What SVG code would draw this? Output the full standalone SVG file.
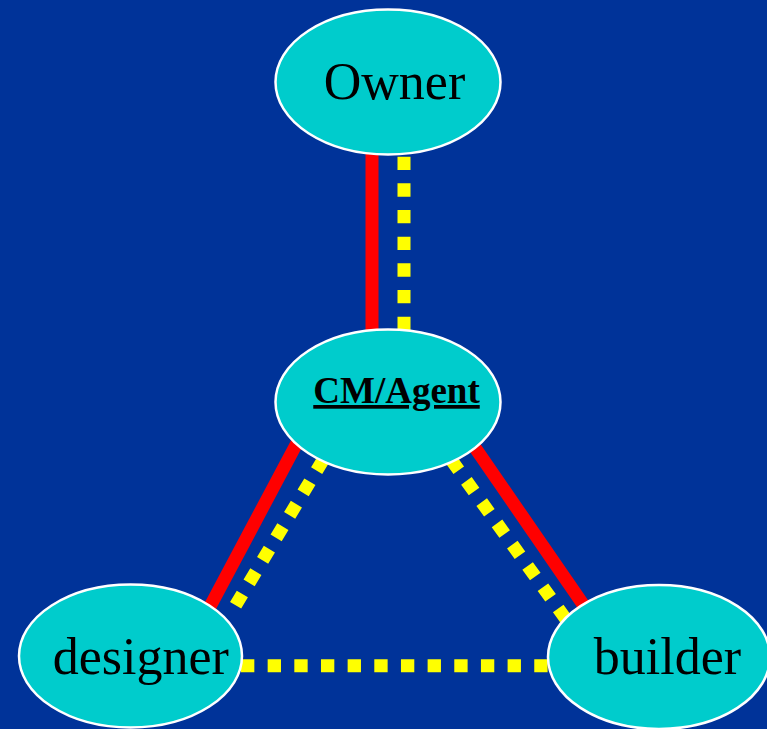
<svg xmlns="http://www.w3.org/2000/svg" width="767" height="729" viewBox="0 0 767 729">
  <style>
    .node ellipse { fill: #00CCCC; stroke: #FFFFFF; stroke-width: 2.5; }
    .node text { font-family: "Liberation Serif", "Times New Roman", serif; fill: #000000; text-anchor: middle; }
    .label { font-size: 52px; }
    .label-bold { font-size: 37px; font-weight: bold; text-decoration: underline; }
    .solid { stroke: #FF0000; stroke-width: 13; fill: none; }
    .dotted { stroke: #FFFF00; stroke-width: 13; fill: none; stroke-linecap: butt; }
    .dotted-v { stroke-dasharray: 13.33 13.33; }
    .dotted-d { stroke-dasharray: 13.1 13.1; }
  </style>

  <!-- backdrop -->
  <rect x="0" y="0" width="767" height="729" fill="#003399"/>

  <!-- connectors: solid red lines and dotted yellow lines -->
  <g id="connectors">
    <!-- Owner to CM/Agent -->
    <line class="solid" x1="372" y1="150" x2="372" y2="335"/>
    <line class="dotted dotted-v" x1="404" y1="156.7" x2="404" y2="330"/>
    <!-- CM/Agent to designer -->
    <line class="solid" x1="309.2" y1="420" x2="192.2" y2="640"/>
    <line class="dotted dotted-d" x1="323.4" y1="459.3" x2="234.9" y2="606.4"/>
    <!-- CM/Agent to builder -->
    <line class="solid" x1="456" y1="420" x2="607.6" y2="640"/>
    <line class="dotted dotted-d" x1="451.1" y1="459.6" x2="565.6" y2="618.7"/>
    <!-- designer to builder -->
    <line class="dotted dotted-v" x1="241" y1="665.7" x2="548.3" y2="665.7"/>
  </g>

  <g id="owner" class="node">
    <ellipse cx="388" cy="82" rx="112.5" ry="72.5"/>
    <text class="label" x="394.5" y="99">Owner</text>
  </g>

  <g id="cm-agent" class="node">
    <ellipse cx="388" cy="402" rx="112.5" ry="72.5"/>
    <text class="label-bold" x="396.5" y="403">CM/Agent</text>
  </g>

  <g id="designer" class="node">
    <ellipse cx="130.5" cy="656" rx="111.5" ry="71.5"/>
    <text class="label" x="140.8" y="674">designer</text>
  </g>

  <g id="builder" class="node">
    <ellipse cx="659" cy="657" rx="111" ry="72"/>
    <text class="label" x="667.5" y="674">builder</text>
  </g>
</svg>
